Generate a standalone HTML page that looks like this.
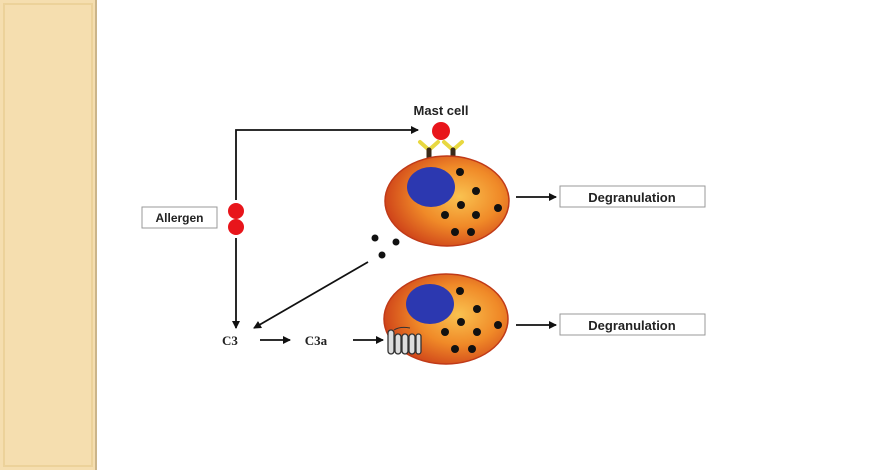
<!DOCTYPE html>
<html><head><style>
html,body{margin:0;padding:0;background:#fff;}
svg{display:block;}
text{font-family:"Liberation Sans",sans-serif;font-weight:bold;}
</style></head><body>
<svg width="870" height="470" viewBox="0 0 870 470">
<defs>
<radialGradient id="cg" cx="0.6" cy="0.45" r="0.6">
<stop offset="0" stop-color="#f9c250"/>
<stop offset="0.55" stop-color="#f08a28"/>
<stop offset="1" stop-color="#d0461a"/>
</radialGradient>
<marker id="ah" markerWidth="8" markerHeight="8" refX="7" refY="4" orient="auto" markerUnits="userSpaceOnUse">
<path d="M0,0 L8,4 L0,8 Z" fill="#111"/>
</marker>
</defs>
<rect x="0" y="0" width="96" height="470" fill="#f5deaf"/>
<rect x="4" y="4" width="88" height="462" fill="none" stroke="#ecd29a" stroke-width="2"/>
<line x1="96" y1="0" x2="96" y2="470" stroke="#cbb58a" stroke-width="2"/>

<polyline points="236,200 236,130 418,130" fill="none" stroke="#111" stroke-width="1.8" marker-end="url(#ah)"/>
<line x1="236" y1="238" x2="236" y2="328" stroke="#111" stroke-width="1.8" marker-end="url(#ah)"/>
<line x1="368" y1="262" x2="254" y2="328" stroke="#111" stroke-width="1.8" marker-end="url(#ah)"/>
<line x1="260" y1="340" x2="290" y2="340" stroke="#111" stroke-width="1.8" marker-end="url(#ah)"/>
<line x1="353" y1="340" x2="383" y2="340" stroke="#111" stroke-width="1.8" marker-end="url(#ah)"/>
<line x1="516" y1="197" x2="556" y2="197" stroke="#111" stroke-width="1.8" marker-end="url(#ah)"/>
<line x1="516" y1="325" x2="556" y2="325" stroke="#111" stroke-width="1.8" marker-end="url(#ah)"/>

<rect x="142" y="207" width="75" height="21" fill="#fff" stroke="#999"/>
<text x="179.5" y="222" font-size="12" text-anchor="middle" fill="#222">Allergen</text>
<circle cx="236" cy="211" r="8" fill="#e8151b"/>
<circle cx="236" cy="227" r="8" fill="#e8151b"/>

<text x="441" y="115" font-size="13" text-anchor="middle" fill="#222">Mast cell</text>
<circle cx="441" cy="131" r="9" fill="#e8151b"/>
<g stroke-linecap="round">
<path d="M420,142 L429,150 L438,142" fill="none" stroke="#e8d840" stroke-width="4"/>
<path d="M444,142 L453,150 L462,142" fill="none" stroke="#e8d840" stroke-width="4"/>
<line x1="429" y1="150" x2="429" y2="160" stroke="#3a2a1a" stroke-width="5"/>
<line x1="453" y1="150" x2="453" y2="160" stroke="#3a2a1a" stroke-width="5"/>
</g>

<ellipse cx="447" cy="201" rx="62" ry="45" fill="url(#cg)" stroke="#c03a18" stroke-width="1.5"/>
<ellipse cx="431" cy="187" rx="24" ry="20" fill="#2c38b0"/>
<g fill="#111">
<circle cx="460" cy="172" r="4"/><circle cx="476" cy="191" r="4"/><circle cx="461" cy="205" r="4"/>
<circle cx="445" cy="215" r="4"/><circle cx="476" cy="215" r="4"/><circle cx="498" cy="208" r="4"/>
<circle cx="455" cy="232" r="4"/><circle cx="471" cy="232" r="4"/>
<circle cx="375" cy="238" r="3.5"/><circle cx="396" cy="242" r="3.5"/><circle cx="382" cy="255" r="3.5"/>
</g>

<ellipse cx="446" cy="319" rx="62" ry="45" fill="url(#cg)" stroke="#c03a18" stroke-width="1.5"/>
<ellipse cx="430" cy="304" rx="24" ry="20" fill="#2c38b0"/>
<g fill="#111">
<circle cx="460" cy="291" r="4"/><circle cx="477" cy="309" r="4"/><circle cx="461" cy="322" r="4"/>
<circle cx="445" cy="332" r="4"/><circle cx="477" cy="332" r="4"/><circle cx="498" cy="325" r="4"/>
<circle cx="455" cy="349" r="4"/><circle cx="472" cy="349" r="4"/>
</g>
<g fill="#ddd" stroke="#333" stroke-width="1.3">
<rect x="388" y="330" width="6" height="24" rx="3"/>
<rect x="395" y="334" width="6" height="20" rx="3"/>
<rect x="402" y="334" width="6" height="20" rx="3"/>
<rect x="409" y="334" width="6" height="20" rx="3"/>
<rect x="416" y="334" width="5" height="20" rx="2.5"/>
</g>
<path d="M394,330 Q400,326 410,328" fill="none" stroke="#333" stroke-width="1"/>

<text x="230" y="345" font-size="13" text-anchor="middle" fill="#222" style="font-family:'Liberation Serif',serif">C3</text>
<text x="316" y="345" font-size="13" text-anchor="middle" fill="#222" style="font-family:'Liberation Serif',serif">C3a</text>

<rect x="560" y="186" width="145" height="21" fill="#fff" stroke="#999"/>
<text x="632" y="202" font-size="13" text-anchor="middle" fill="#222">Degranulation</text>
<rect x="560" y="314" width="145" height="21" fill="#fff" stroke="#999"/>
<text x="632" y="330" font-size="13" text-anchor="middle" fill="#222">Degranulation</text>
</svg>
</body></html>
